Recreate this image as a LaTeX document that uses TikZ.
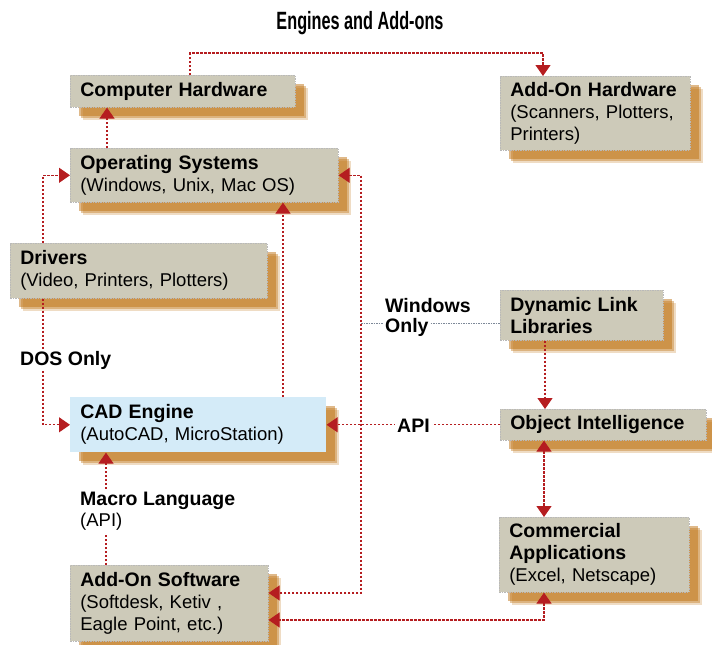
\documentclass[tikz,border=0pt]{standalone}
\usepackage{fontspec}
\setmainfont{Liberation Sans}
\usetikzlibrary{arrows.meta,shadows}
\definecolor{boxc}{HTML}{CDCAB9}
\definecolor{cadc}{HTML}{D4EBF8}
\definecolor{shc}{HTML}{BF7415}
\definecolor{rdc}{HTML}{B51D20}
\definecolor{grc}{HTML}{7D8898}
\newcommand{\hd}[1]{{\fontsize{19.5}{22}\selectfont\bfseries #1}}
\begin{document}
\begin{tikzpicture}[x=1pt,y=-1pt,
  font=\fontsize{18.5}{22}\selectfont,
  shadowed/.style={
    general shadow={shadow xshift=13pt, shadow yshift=-13pt, fill=shc, opacity=0.25},
    general shadow={shadow xshift=11pt, shadow yshift=-11pt, fill=shc, opacity=0.4},
    general shadow={shadow xshift=9pt, shadow yshift=-9pt, fill=shc, opacity=0.5}},
  box/.style={fill=boxc, draw=gray!55, line width=0.6pt, dash pattern=on 1.5pt off 1pt,
    anchor=north west, align=left, inner xsep=10pt, inner ysep=0pt, shadowed},
  conn/.style={draw=rdc, line width=1.1pt, dash pattern=on 2.5pt off 1.5pt,
    >={Triangle[width=15pt,length=11pt]}},
  gcon/.style={draw=grc, line width=0.7pt, dash pattern=on 1.5pt off 1pt},
  lbl/.style={font=\fontsize{19.5}{21}\selectfont\bfseries, fill=white, inner sep=2pt}
]
\useasboundingbox (0,0) rectangle (712,645);

\node[anchor=base] (title) at (360,29) {\fontsize{25}{27}\selectfont\bfseries\scalebox{0.65}[1]{Engines and Add-ons}};

\node[box, minimum width=225pt, minimum height=32pt, text width=205pt] (ch) at (70,75) {\hd{Computer Hardware}};
\node[box, minimum width=190pt, minimum height=74pt, text width=170pt] (ah) at (500,76) {\hd{Add-On Hardware}\\(Scanners, Plotters,\\Printers)};
\node[box, minimum width=268pt, minimum height=54pt, text width=248pt] (os) at (70,148) {\hd{Operating Systems}\\(Windows, Unix, Mac OS)};
\node[box, minimum width=257pt, minimum height=55pt, text width=237pt] (drv) at (10,243) {\hd{Drivers}\\(Video, Printers, Plotters)};
\node[box, fill=cadc, draw=none, minimum width=256pt, minimum height=55pt, text width=236pt] (cad) at (70,397) {\hd{CAD Engine}\\(AutoCAD, MicroStation)};
\node[box, minimum width=198pt, minimum height=76pt, text width=178pt] (as) at (70,565) {\hd{Add-On Software}\\(Softdesk, Ketiv ,\\Eagle Point, etc.)};
\node[box, minimum width=163pt, minimum height=50pt, text width=143pt] (dll) at (500,290) {\hd{Dynamic Link}\\\hd{Libraries}};
\node[box, minimum width=206pt, minimum height=31pt, text width=186pt] (oi) at (500,409) {\hd{Object Intelligence}};
\node[box, minimum width=190pt, minimum height=75pt, text width=170pt] (ca) at (499,517) {\hd{Commercial}\\\hd{Applications}\\(Excel, Netscape)};

\draw[conn,->] ([xshift=120pt]ch.north west) -- ++(0,-22) -| ([xshift=43pt]ah.north west);
\draw[conn,->] ([xshift=37pt]os.north west) -- ([xshift=37pt]ch.south west);
\draw[conn,->] ([xshift=33pt]drv.north west) |- (os.west);
\draw[conn,->] ([xshift=33pt]drv.south west) |- (cad.west);
\draw[conn,->] ([xshift=213pt]cad.north west) -- ([xshift=213pt]os.south west);
\draw[conn,->] ([xshift=36pt]as.north west) -- ([xshift=36pt]cad.south west);
\coordinate (rv) at (361,593);
\draw[conn,<->] (os.east) -| (rv) -- (rv -| as.east);
\draw[conn,->] (oi.west) -- (cad.east);
\draw[conn,->] ([xshift=45pt]dll.south west) -- ([xshift=45pt]oi.north west);
\draw[conn,<->] ([xshift=44pt]oi.south west) -- ([xshift=45pt]ca.north west);
\draw[conn,<->] ([xshift=45pt]ca.south west) |- ([yshift=-55pt]as.north east);

\node[lbl, anchor=base west] (dos) at (18,365) {DOS Only};
\node[lbl, anchor=base west] (api) at (395,432) {API};
\node[lbl, anchor=base west, fill=none] (win) at (383,312) {Windows};
\node[lbl, anchor=base west] (only) at (383,332) {Only};
\node[lbl, anchor=north west, align=left, inner sep=3pt] (mac) at (77,489) {Macro Language\\{\mdseries\fontsize{18.5}{21}\selectfont (API)}};

\coordinate (wo) at (361,323);
\draw[gcon] (wo) -- (wo -| only.west);
\draw[gcon] (wo -| only.east) -- (wo -| dll.west);
\end{tikzpicture}
\end{document}
